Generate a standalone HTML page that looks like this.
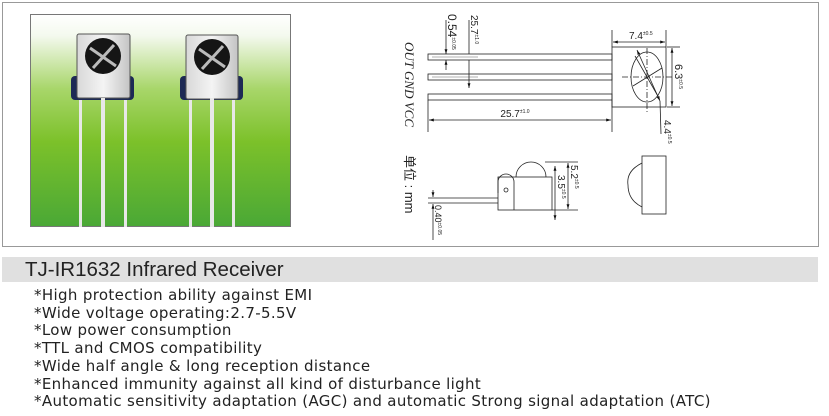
<!DOCTYPE html>
<html><head><meta charset="utf-8"><style>
body{margin:0;width:829px;height:416px;background:#fff;overflow:hidden;position:relative;font-family:"DejaVu Sans","Liberation Sans",sans-serif}
.band{position:absolute;left:2px;top:257px;width:816px;height:25px;background:#e0e0e0}
.title{position:absolute;left:25px;top:258px;font-family:"Liberation Sans",sans-serif;font-size:20.5px;color:#222}
.list{position:absolute;left:34px;top:287px;font-size:15px;line-height:17.7px;color:#222;white-space:nowrap;letter-spacing:0.35px}
</style></head><body>
<svg width="829" height="416" style="position:absolute;left:0;top:0" font-family="Liberation Sans, sans-serif">
<defs>
<linearGradient id="g" x1="0" y1="0" x2="0" y2="1">
<stop offset="0" stop-color="#ffffff"/><stop offset="0.1" stop-color="#f4f9ee"/>
<stop offset="0.35" stop-color="#a8d66a"/><stop offset="0.6" stop-color="#7cc12a"/>
<stop offset="1" stop-color="#4aa836"/></linearGradient>
<linearGradient id="m" x1="0" y1="0" x2="1" y2="0"><stop offset="0" stop-color="#d8d8d8"/><stop offset="0.5" stop-color="#f4f4f4"/><stop offset="1" stop-color="#c4c4c4"/></linearGradient>
<marker id="a" viewBox="0 0 10 10" refX="10" refY="5" markerWidth="6" markerHeight="6" orient="auto-start-reverse"><path d="M0,2 L10,5 L0,8z" fill="#111"/></marker>
</defs>
<rect x="2.5" y="2.5" width="816" height="244" fill="none" stroke="#999"/>
<rect x="30.5" y="14.5" width="260" height="212" fill="url(#g)" stroke="#777"/>
<g>
<rect x="71" y="76" width="63" height="24" rx="4" fill="#1d2a55"/>
<rect x="77" y="34" width="53" height="64" rx="2" fill="url(#m)" stroke="#555"/>
<circle cx="103" cy="56" r="18" fill="#151515"/>
<path d="M90 48 L116 66 M114 45 L93 68" stroke="#bbb" stroke-width="3"/>
<rect x="79" y="100" width="3" height="127" fill="#e8e8e8"/><rect x="101" y="98" width="4" height="129" fill="#e8e8e8"/><rect x="124" y="100" width="3" height="127" fill="#e8e8e8"/>
<rect x="180" y="76" width="63" height="24" rx="4" fill="#1d2a55"/>
<rect x="186" y="35" width="52" height="64" rx="2" fill="url(#m)" stroke="#555"/>
<circle cx="212" cy="57" r="18" fill="#151515"/>
<path d="M199 49 L225 67 M223 46 L202 69" stroke="#bbb" stroke-width="3"/>
<rect x="189" y="100" width="3" height="127" fill="#e8e8e8"/><rect x="210" y="98" width="4" height="129" fill="#e8e8e8"/><rect x="232" y="100" width="3" height="127" fill="#e8e8e8"/>
</g>
<g stroke="#222" stroke-width="0.8" fill="none">
<rect x="428" y="54" width="184" height="6"/><rect x="428" y="74" width="184" height="6"/><rect x="428" y="94" width="184" height="6"/>
<line x1="432" y1="57" x2="478" y2="57" stroke="#999"/><line x1="432" y1="77" x2="478" y2="77" stroke="#999"/>
<rect x="612" y="47" width="54" height="60"/>
<ellipse cx="647" cy="77" rx="16" ry="25"/>
<line x1="622" y1="77" x2="672" y2="77" stroke-dasharray="6,2,1,2"/>
<line x1="647" y1="48" x2="647" y2="114" stroke-dasharray="6,2,1,2"/>
<line x1="635" y1="56" x2="659" y2="98"/><line x1="633" y1="86" x2="662" y2="68"/>
<line x1="637" y1="50" x2="660" y2="101" marker-start="url(#a)" marker-end="url(#a)"/>
<line x1="660" y1="101" x2="661" y2="134"/>
<line x1="612" y1="30" x2="612" y2="47"/><line x1="666" y1="30" x2="666" y2="47"/>
<line x1="613" y1="42" x2="665" y2="42" marker-start="url(#a)" marker-end="url(#a)"/>
<line x1="667" y1="47" x2="680" y2="47"/><line x1="667" y1="107" x2="680" y2="107"/>
<line x1="672" y1="48" x2="672" y2="106" marker-start="url(#a)" marker-end="url(#a)"/>
<line x1="428" y1="100" x2="428" y2="132"/><line x1="612" y1="100" x2="612" y2="132"/>
<line x1="429" y1="120" x2="611" y2="120" marker-start="url(#a)" marker-end="url(#a)"/>
<line x1="446" y1="20" x2="446" y2="54" marker-end="url(#a)"/><line x1="446" y1="60" x2="446" y2="70" marker-start="url(#a)"/>
<line x1="469" y1="20" x2="469" y2="54"/><line x1="469" y1="60" x2="469" y2="88" marker-end="url(#a)"/>
<line x1="428" y1="198" x2="498" y2="198"/><line x1="428" y1="203" x2="498" y2="203"/>
<rect x="498" y="177" width="54" height="33"/>
<path d="M516 177 A15 15 0 0 1 546 177"/>
<path d="M498 193 L498 182 A8 8 0 0 1 514 182 L514 210"/>
<circle cx="506" cy="190" r="2"/>
<line x1="545" y1="162" x2="578" y2="162"/><line x1="552" y1="210" x2="578" y2="210"/>
<line x1="568" y1="163" x2="568" y2="209" marker-start="url(#a)" marker-end="url(#a)"/>
<line x1="555" y1="166" x2="555" y2="220" marker-start="url(#a)" marker-end="url(#a)"/>
<line x1="433" y1="190" x2="433" y2="197" marker-end="url(#a)"/><line x1="433" y1="204" x2="433" y2="240" marker-start="url(#a)"/>
<rect x="642" y="156" width="24" height="58"/>
<path d="M642 163 Q626 171 628 185 Q628 200 642 207"/>
</g>
<g fill="#222">
<text x="515" y="117" font-size="10" text-anchor="middle">25.7<tspan font-size="5" dy="-4">±1.0</tspan></text>
<text x="629" y="39" font-size="10">7.4<tspan font-size="5" dy="-4">±0.5</tspan></text>
<text transform="translate(675,64) rotate(90)" font-size="11">6.3<tspan font-size="5" dy="-4">±0.5</tspan></text>
<text transform="translate(664,120) rotate(90)" font-size="10">4.4<tspan font-size="5" dy="-4">±0.5</tspan></text>
<text transform="translate(448,14) rotate(90)" font-size="12">0.54<tspan font-size="5" dy="-4">±0.05</tspan></text>
<text transform="translate(471,15) rotate(90)" font-size="10">25.7<tspan font-size="5" dy="-4">±1.0</tspan></text>
<text transform="translate(571,165) rotate(90)" font-size="10">5.2<tspan font-size="5" dy="-4">±0.5</tspan></text>
<text transform="translate(558,175) rotate(90)" font-size="10">3.5<tspan font-size="5" dy="-4">±0.5</tspan></text>
<text transform="translate(435,205) rotate(90)" font-size="9">0.40<tspan font-size="5" dy="-3">±0.05</tspan></text>
<text transform="translate(405,42) rotate(90)" font-size="13" font-family="Liberation Serif, serif" font-style="italic">OUT GND VCC</text>
<text transform="translate(405,155) rotate(90)" font-size="13" font-family="Liberation Sans, Noto Sans CJK SC, sans-serif">单位 : mm</text>
</g>
</svg>
<div class="band"></div>
<div class="title">TJ-IR1632 Infrared Receiver</div>
<div class="list">*High protection ability against EMI<br>*Wide voltage operating:2.7-5.5V<br>*Low power consumption<br>*TTL and CMOS compatibility<br>*Wide half angle &amp; long reception distance<br>*Enhanced immunity against all kind of disturbance light<br>*Automatic sensitivity adaptation (AGC) and automatic Strong signal adaptation (ATC)</div>
</body></html>
